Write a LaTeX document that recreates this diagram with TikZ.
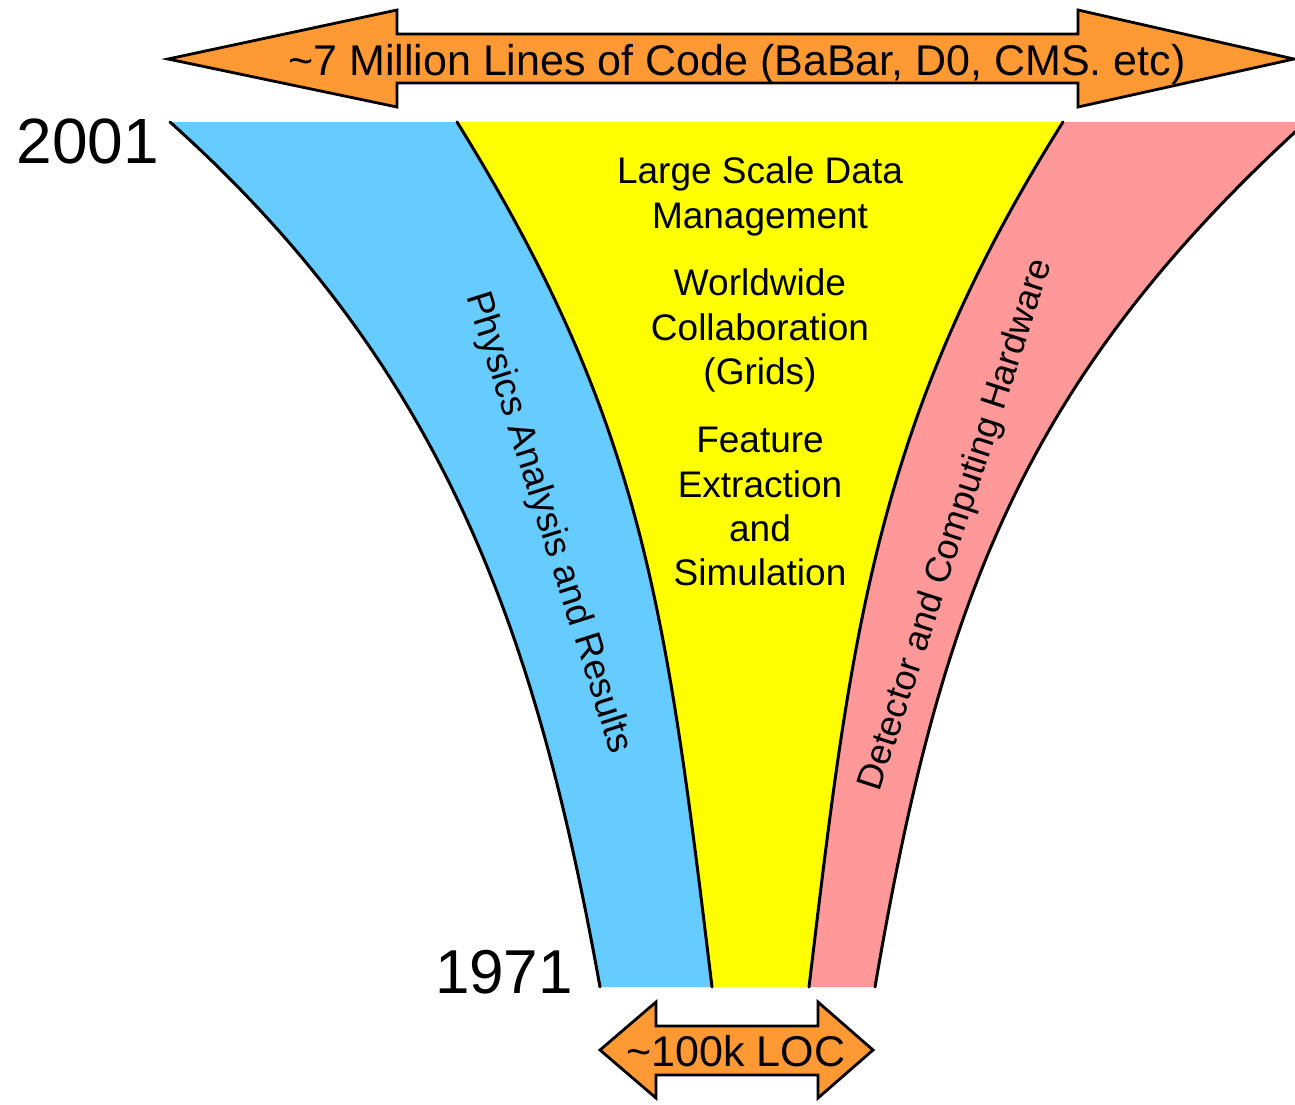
\documentclass[tikz,border=0pt]{standalone}
\usepackage{fontspec}
\setmainfont{Liberation Sans}
\definecolor{fblue}{HTML}{66CCFF}
\definecolor{fyellow}{HTML}{FFFF00}
\definecolor{fpink}{HTML}{FF9999}
\definecolor{forange}{HTML}{FF9933}
\begin{document}
\begin{tikzpicture}[x=1pt,y=-1pt,
  edge/.style={draw=black,line width=3pt,line cap=round,line join=round},
  arrowshape/.style={fill=forange,draw=black,line width=2.8pt,line join=miter},
  midtxt/.style={inner sep=0pt,anchor=base,font=\fontsize{37}{45}\selectfont},
  rottxt/.style={inner sep=0pt,anchor=center,font=\fontsize{37}{45}\selectfont},
  yeartxt/.style={inner sep=0pt,anchor=base,font=\fontsize{64}{72}\selectfont},
  arrtxt/.style={inner sep=0pt,anchor=base,font=\fontsize{43}{50}\selectfont}]
\useasboundingbox (0,0) rectangle (1295,1104);
\clip (0,0) rectangle (1295,1104);
% key points
\coordinate (bt) at (170,122);
\coordinate (byt) at (457,122);
\coordinate (ypt) at (1063,122);
\coordinate (pt) at (1306,122);
\coordinate (bb) at (600,987);
\coordinate (byb) at (712,987);
\coordinate (ypb) at (809,987);
\coordinate (pb) at (875,987);
% bands
\fill[fblue] (bt) -- (byt) .. controls (643,422) and (666,607) .. (byb) -- (bb) .. controls (537,637) and (447,370) .. (bt) -- cycle;
\fill[fyellow] (byt) -- (ypt) .. controls (874,422) and (851,637) .. (ypb) -- (byb) .. controls (666,607) and (643,422) .. (byt) -- cycle;
\fill[fpink] (ypt) -- (pt) .. controls (1020,382) and (940,607) .. (pb) -- (ypb) .. controls (851,637) and (874,422) .. (ypt) -- cycle;
% band edges
\draw[edge] (bt) .. controls (447,370) and (537,637) .. (bb);
\draw[edge] (byt) .. controls (643,422) and (666,607) .. (byb);
\draw[edge] (ypt) .. controls (874,422) and (851,637) .. (ypb);
\draw[edge] (pt) .. controls (1020,382) and (940,607) .. (pb);
% top arrow
\draw[arrowshape] (168,59) -- (397,10) -- (397,34) -- (1078,34) -- (1078,10) -- (1294,59) -- (1078,107) -- (1078,83) -- (397,83) -- (397,107) -- cycle;
\node[arrtxt] (toptxt) at (737,75) {\textasciitilde 7 Million Lines of Code (BaBar, D0, CMS. etc)};
% bottom arrow
\draw[arrowshape] (600,1050) -- (656,1002) -- (656,1026) -- (818,1026) -- (818,1002) -- (873,1050) -- (818,1098) -- (818,1075) -- (656,1075) -- (656,1098) -- cycle;
\node[arrtxt] (bottxt) at (736,1066) {\textasciitilde 100k LOC};
% years
\node[yeartxt] (y2001) at (88,163) {2001};
\node[yeartxt,font=\fontsize{62}{70}\selectfont] (y1971) at (504,993) {1971};
% centre texts
\node[midtxt] (l1) at (760,183) {Large Scale Data};
\node[midtxt] (l2) at (760,228) {Management};
\node[midtxt] (l3) at (760,295) {Worldwide};
\node[midtxt] (l4) at (760,340) {Collaboration};
\node[midtxt] (l5) at (760,384) {(Grids)};
\node[midtxt] (l6) at (760,452) {Feature};
\node[midtxt] (l7) at (760,497) {Extraction};
\node[midtxt] (l8) at (760,541) {and};
\node[midtxt] (l9) at (760,585) {Simulation};
% rotated texts
\node[rottxt,rotate=-72.5] (phys) at (548,523) {Physics Analysis and Results};
\node[rottxt,font=\fontsize{36}{44}\selectfont,rotate=72] (det) at (957,525) {Detector and Computing Hardware};
\end{tikzpicture}
\end{document}
